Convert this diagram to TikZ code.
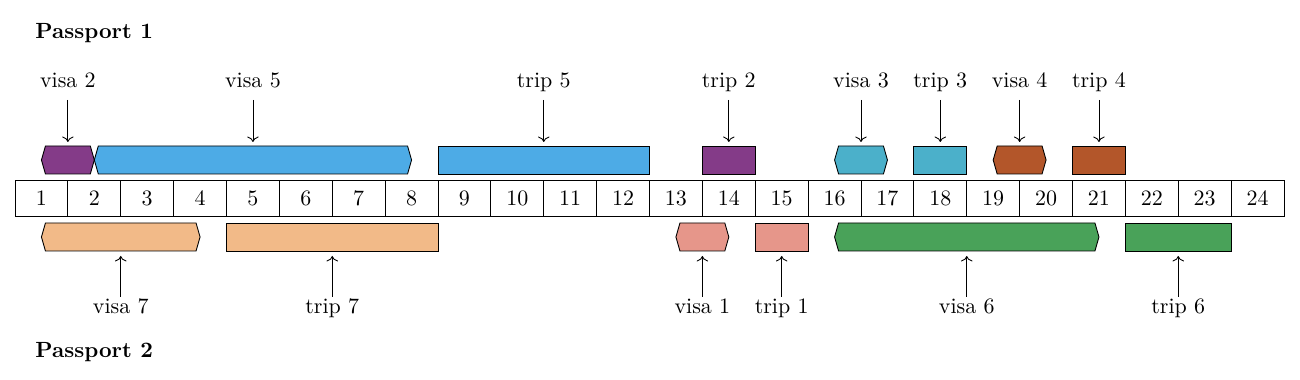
\documentclass[tikz,border=0pt]{standalone}
\usetikzlibrary{arrows.meta}
\definecolor{cpurple}{HTML}{843B88}
\definecolor{cblue}{HTML}{4DABE6}
\definecolor{cteal}{HTML}{4BB0CA}
\definecolor{cbrown}{HTML}{B3562A}
\definecolor{cpeach}{HTML}{F2BA88}
\definecolor{csalmon}{HTML}{E6968A}
\definecolor{cgreen}{HTML}{49A259}
\begin{document}
\begin{tikzpicture}[x=0.455pt,y=-0.455pt,
  cell/.style={draw, minimum width=24.06pt, minimum height=16.38pt, inner sep=0pt, text height=6.44pt, text depth=0pt},
  lbl/.style={inner sep=0pt, text height=6.9pt, text depth=0pt},
  ptr/.style={->},
  boxline/.style={draw=black, line width=0.4pt}]
\useasboundingbox (0,0) rectangle (1300,380);
\def\cw{52.875}
% cells
\foreach \i in {1,...,24}{
  \node[cell] (c\i) at ({15+\cw*(\i-0.5)},198) {\i};
}
% helper macros
\newcommand\mkvisa[6]{% a b ytop ybot colour name
  \pgfmathsetmacro\xa{15+\cw*(#1-0.5)}
  \pgfmathsetmacro\xb{15+\cw*(#2-0.5)}
  \pgfmathsetmacro\xm{(\xa+\xb)/2}
  \fill[#5,boxline] (\xa,{(#3+#4)/2}) -- (\xa+4,#3) -- (\xb-4,#3) -- (\xb,{(#3+#4)/2}) -- (\xb-4,#4) -- (\xa+4,#4) -- cycle;
  \coordinate (#6t) at (\xm,#3);
  \coordinate (#6b) at (\xm,#4);
}
\newcommand\mktrip[6]{% a b ytop ybot colour name
  \pgfmathsetmacro\xa{15+\cw*(#1-1)}
  \pgfmathsetmacro\xb{15+\cw*(#2)}
  \pgfmathsetmacro\xm{(\xa+\xb)/2}
  \fill[#5,boxline] (\xa,#3) rectangle (\xb,#4);
  \coordinate (#6t) at (\xm,#3);
  \coordinate (#6b) at (\xm,#4);
}
% top boxes (Passport 1)
\mkvisa{1}{2}{146}{174}{cpurple}{v2}
\mkvisa{2}{8}{146}{174}{cblue}{v5}
\mktrip{9}{12}{146}{174}{cblue}{t5}
\mktrip{14}{14}{146}{174}{cpurple}{t2}
\mkvisa{16}{17}{146}{174}{cteal}{v3}
\mktrip{18}{18}{146}{174}{cteal}{t3}
\mkvisa{19}{20}{146}{174}{cbrown}{v4}
\mktrip{21}{21}{146}{174}{cbrown}{t4}
% bottom boxes (Passport 2)
\mkvisa{1}{4}{223}{251}{cpeach}{v7}
\mktrip{5}{8}{223}{251}{cpeach}{t7}
\mkvisa{13}{14}{223}{251}{csalmon}{v1}
\mktrip{15}{15}{223}{251}{csalmon}{t1}
\mkvisa{16}{21}{223}{251}{cgreen}{v6}
\mktrip{22}{23}{223}{251}{cgreen}{t6}
% top labels
\foreach \n/\t in {v2/visa 2,v5/visa 5,t5/trip 5,t2/trip 2,v3/visa 3,t3/trip 3,v4/visa 4,t4/trip 4}{
  \path (\n t) ++(0,-66) node[lbl] (L\n) {\t};
  \path (\n t) ++(0,-46) coordinate (S\n);
  \path (\n t) ++(0,-4) coordinate (E\n);
  \draw[ptr] (S\n) -- (E\n);
}
% bottom labels
\foreach \n/\t in {v7/visa 7,t7/trip 7,v1/visa 1,t1/trip 1,v6/visa 6,t6/trip 6}{
  \path (\n b) ++(0,55) node[lbl] (L\n) {\t};
  \path (\n b) ++(0,46) coordinate (S\n);
  \path (\n b) ++(0,5) coordinate (E\n);
  \draw[ptr] (S\n) -- (E\n);
}
\node[anchor=west, inner sep=0pt, font=\bfseries] (p1) at (35,33) {Passport 1};
\node[anchor=west, inner sep=0pt, font=\bfseries] (p2) at (35,352) {Passport 2};
\end{tikzpicture}
\end{document}
